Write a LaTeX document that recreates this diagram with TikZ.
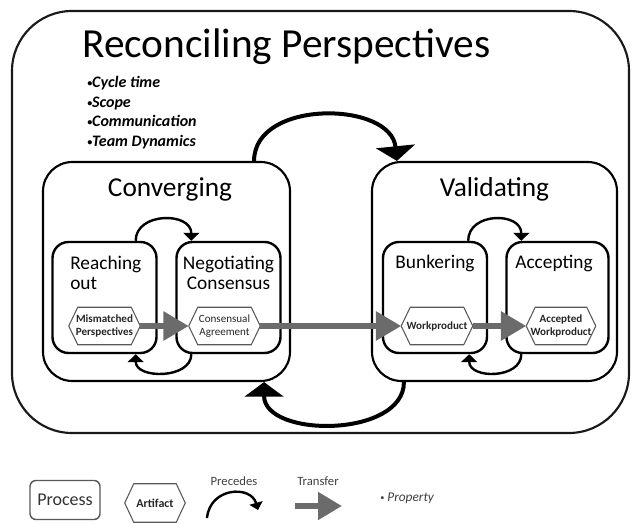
\documentclass[tikz,border=0pt]{standalone}
\usepackage{fontspec}
\setmainfont{Carlito}
\usetikzlibrary{arrows.meta,calc}
% one drawing unit = one pixel of the 637 x 524 layout
\newlength{\pxu}
\setlength{\pxu}{0.75pt}
% small list bullet
\newcommand\smallbullet{\raisebox{0.18ex}{\scalebox{0.62}{•}}}
% hexagonal outline around a (borderless) artifact node
\newcommand\hexoutline[2][hexline]{%
  \draw[#1] (#2.west) -- ($(#2.north west)+(9,0)$) -- ($(#2.north east)+(-9,0)$)
    -- (#2.east) -- ($(#2.south east)+(-9,0)$) -- ($(#2.south west)+(9,0)$) -- cycle;}
\begin{document}
\begin{tikzpicture}[x=0.75pt, y=-0.75pt,
  outerframe/.style={draw=black!90, line width=1.6pt, rounded corners=45pt,
    minimum width=617\pxu, minimum height=422\pxu, inner sep=0pt},
  phasebox/.style={draw, line width=1.6pt, rounded corners=22pt,
    minimum width=247\pxu, minimum height=219\pxu, inner sep=0pt},
  taskbox/.style={draw, line width=1.8pt, rounded corners=12pt,
    minimum width=104\pxu, minimum height=111\pxu, inner sep=0pt},
  phasetitle/.style={anchor=base, inner sep=0pt, font=\fontsize{20.5}{24}\selectfont},
  tasktitle/.style={inner sep=0pt, font=\fontsize{14.5}{17}\selectfont},
  artbox/.style={minimum width=71\pxu, minimum height=37\pxu, inner sep=0pt,
    align=center, text=black!85, font=\fontsize{8.3}{9.3}\selectfont\bfseries},
  hexline/.style={draw=black!65, line width=0.8pt},
  transfer/.style={draw=black!58, line width=4.5pt,
    -{Triangle[length=19pt,width=21pt]}},
  bigprec/.style={line width=3pt, -{Triangle[length=11pt,width=29pt]}},
  smallprec/.style={line width=1.8pt, -{Triangle[length=6pt,width=12pt]}},
  legendtext/.style={inner sep=0pt, text=black!75},
]
\useasboundingbox (0,0) rectangle (637,524);

% outer process with its title and properties
\node[outerframe] (whole) at (320.5,222) {};
\node[anchor=base west, inner sep=0pt, font=\fontsize{31}{37}\selectfont]
  (title) at (82,58) {Reconciling Perspectives};
\foreach \t [count=\i] in {Cycle time, Scope, Communication, Team Dynamics}
  \node[anchor=base west, inner sep=0pt,
        font=\fontsize{12}{14}\selectfont\bfseries\itshape]
    (prop\i) at (87,{88+19.5*(\i-1)}) {\smallbullet\t};

% the two phases
\node[phasebox] (conv) at (166.5,271.5) {};
\node[phasebox, minimum width=245\pxu] (valid) at (494.5,271.5) {};
\node[phasetitle] (convt) at (170,197) {Converging};
\node[phasetitle] (validt) at (494.5,197) {Validating};

% activities
\node[taskbox] (reach) at (104.5,297.5) {};
\node[taskbox] (nego) at (228.5,297.5) {};
\node[taskbox] (bunk) at (435,297.5) {};
\node[taskbox, minimum width=102\pxu] (acc) at (557.5,297.5) {};

\node[tasktitle, anchor=base west] (reacht1) at (70,270) {Reaching};
\node[tasktitle, anchor=base west] (reacht2) at (70,290) {out};
\node[tasktitle, anchor=base] (negot1) at (228.5,270) {Negotiating};
\node[tasktitle, anchor=base] (negot2) at (228.5,290) {Consensus};
\node[tasktitle, anchor=base] (bunkt) at (435,269) {Bunkering};
\node[tasktitle, anchor=base] (acct) at (554,269) {Accepting};

% artifacts
\node[artbox] (mis) at (104.5,326) {Mismatched\\Perspectives};
\node[artbox, font=\fontsize{8.3}{10}\selectfont\mdseries] (agr) at (224.5,326) {Consensual\\Agreement};
\node[artbox] (wp) at (437,326) {Workproduct};
\node[artbox, minimum width=69\pxu] (awp) at (561,326) {Accepted\\Workproduct};
\foreach \n in {mis, agr, wp, awp} \hexoutline{\n};

% transfers of artifacts
\draw[transfer] (mis.east) -- (agr.west);
\draw[transfer] (agr.east) -- (wp.west);
\draw[transfer] (wp.east) -- (awp.west);

% precedence between phases
\coordinate (c1) at ($(conv.north east)+(-37,0)$);
\coordinate (v1) at ($(valid.north west)+(26,0)$);
\draw[bigprec] (c1) .. controls ($(c1)+(0,-62)$) and ($(v1)+(-6,-60)$) .. (v1);
\coordinate (v2) at ($(valid.south west)+(33,0)$);
\coordinate (c2) at ($(conv.south east)+(-27,0)$);
\draw[bigprec] (v2) .. controls ($(v2)+(0,56)$) and ($(c2)+(0,56)$) .. (c2);

% precedence between activities
\coordinate (r1) at ($(reach.north east)+(-22,0)$);
\coordinate (n1) at ($(nego.north west)+(16,0)$);
\draw[smallprec] (r1) .. controls ($(r1)+(0,-29)$) and ($(n1)+(0,-29)$) .. (n1);
\coordinate (n2) at ($(nego.south west)+(16,0)$);
\coordinate (r2) at ($(reach.south east)+(-22,0)$);
\draw[smallprec] (n2) .. controls ($(n2)+(0,25)$) and ($(r2)+(0,25)$) .. (r2);
\coordinate (b1) at ($(bunk.north east)+(-20,0)$);
\coordinate (a1) at ($(acc.north west)+(16,0)$);
\draw[smallprec] (b1) .. controls ($(b1)+(0,-29)$) and ($(a1)+(0,-29)$) .. (a1);
\coordinate (a2) at ($(acc.south west)+(16,0)$);
\coordinate (b2) at ($(bunk.south east)+(-19,0)$);
\draw[smallprec] (a2) .. controls ($(a2)+(0,25)$) and ($(b2)+(0,25)$) .. (b2);

% legend
\node[draw=black!65, line width=1.1pt, rounded corners=4.5pt,
      minimum width=70\pxu, minimum height=39\pxu, inner sep=0pt,
      text=black!80, font=\fontsize{13.5}{16}\selectfont] (lproc) at (65,500) {Process};
\node[artbox, minimum width=60\pxu, minimum height=38\pxu,
      font=\fontsize{9}{10}\selectfont\bfseries] (lart) at (155,503) {Artifact};
\hexoutline{lart}
\node[legendtext, font=\fontsize{9.5}{11}\selectfont] (lprec) at (234,481) {Precedes};
\coordinate (lp1) at (207,518);
\coordinate (lp2) at (258,510);
\draw[line width=1.8pt, -{Triangle[length=5.5pt,width=10pt]}]
  (lp1) .. controls (210,487) and (251,485) .. (lp2);
\node[legendtext, font=\fontsize{9.5}{11}\selectfont] (ltr) at (318,481) {Transfer};
\coordinate (lt1) at (295,506);
\coordinate (lt2) at (342,506);
\draw[draw=black!58, line width=5.2pt, -{Triangle[length=18pt,width=20pt]}] (lt1) -- (lt2);
\node[legendtext, anchor=base west, font=\fontsize{10}{12}\selectfont]
  (lprop) at (380,502) {\smallbullet\ \textit{Property}};
\end{tikzpicture}
\end{document}
